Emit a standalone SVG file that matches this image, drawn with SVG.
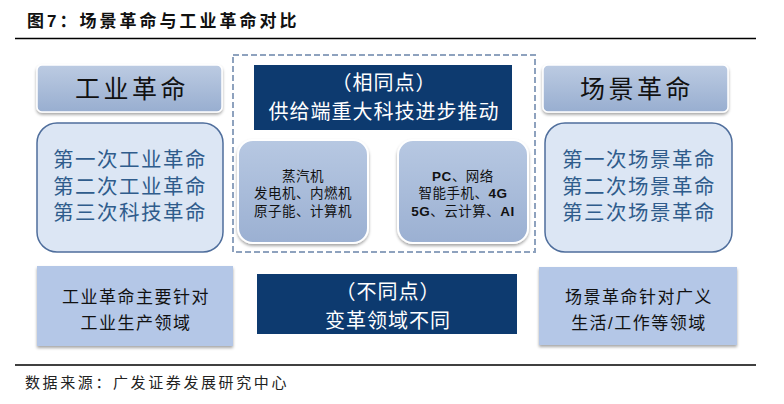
<svg xmlns="http://www.w3.org/2000/svg" width="784" height="404" viewBox="0 0 784 404">
<style>
text{font-family:"Liberation Sans","Noto Sans CJK SC",sans-serif;text-anchor:middle}
.title{font-size:17px;font-weight:bold;text-anchor:start;fill:#111;letter-spacing:3px}
.src{font-size:15px;text-anchor:start;fill:#222;letter-spacing:2.6px}
.hdr{font-size:25px;fill:#111;letter-spacing:3.5px}
.list{font-size:20.5px;fill:#2f5c8c;letter-spacing:1.5px}
.navy{fill:#0d3a6f}
.wt{fill:#fff;font-size:20px;letter-spacing:1px}
.inner{font-size:13.5px;fill:#111;letter-spacing:0.5px}
.bot{font-size:17px;fill:#111;letter-spacing:1.5px}
</style>
<defs>
<linearGradient id="hg" x1="0" y1="0" x2="0" y2="1">
<stop offset="0" stop-color="#bccbe2"/><stop offset="1" stop-color="#98aed0"/>
</linearGradient>
<linearGradient id="ig" x1="0" y1="0" x2="0" y2="1">
<stop offset="0" stop-color="#b7c8e2"/><stop offset="1" stop-color="#9bb0d2"/>
</linearGradient>
<filter id="sh" x="-10%" y="-10%" width="120%" height="130%">
<feDropShadow dx="0" dy="2" stdDeviation="1.5" flood-color="#000" flood-opacity="0.35"/>
</filter>
</defs>
<text class="title" x="27" y="27">图7：场景革命与工业革命对比</text>
<line x1="15" y1="38.5" x2="756" y2="38.5" stroke="#000" stroke-width="1.5"/>
<line x1="15" y1="365" x2="756" y2="365" stroke="#000" stroke-width="1.5"/>
<text class="src" x="25" y="388">数据来源：广发证券发展研究中心</text>

<g id="connectors"></g>

<g id="dashed-frame">
<rect x="233" y="55" width="302" height="197" fill="none" stroke="#8ea2be" stroke-width="2" stroke-dasharray="6,3"/>
</g>

<g id="hdr-left">
<rect x="37" y="65" width="185" height="47" rx="5" fill="url(#hg)" stroke="#fff" stroke-width="1.5" filter="url(#sh)"/>
<text class="hdr" x="132" y="98">工业革命</text>
</g>
<g id="list-left">
<rect x="37" y="123" width="186" height="129" rx="20" fill="#dce6f4" stroke="#4f6e9c" stroke-width="1.5"/>
<text class="list" x="130" y="167">第一次工业革命</text>
<text class="list" x="130" y="194">第二次工业革命</text>
<text class="list" x="130" y="220">第三次科技革命</text>
</g>

<g id="hdr-right">
<rect x="543" y="65" width="185" height="47" rx="5" fill="url(#hg)" stroke="#fff" stroke-width="1.5" filter="url(#sh)"/>
<text class="hdr" x="637" y="98">场景革命</text>
</g>
<g id="list-right">
<rect x="545" y="123" width="187" height="129" rx="20" fill="#dce6f4" stroke="#4f6e9c" stroke-width="1.5"/>
<text class="list" x="639" y="167">第一次场景革命</text>
<text class="list" x="639" y="194">第二次场景革命</text>
<text class="list" x="639" y="220">第三次场景革命</text>
</g>

<g id="same">
<rect class="navy" x="254" y="65" width="258" height="65"/>
<text class="wt" x="384" y="90">（相同点）</text>
<text class="wt" x="384" y="119" font-size="21">供给端重大科技进步推动</text>
</g>

<g id="inner-left">
<rect x="238" y="140" width="130" height="103" rx="15" fill="url(#ig)" stroke="#fff" stroke-width="2" filter="url(#sh)"/>
<text class="inner" x="303" y="181">蒸汽机</text>
<text class="inner" x="303" y="198">发电机、内燃机</text>
<text class="inner" x="303" y="216">原子能、计算机</text>
</g>
<g id="inner-right">
<rect x="398" y="140" width="130" height="103" rx="15" fill="url(#ig)" stroke="#fff" stroke-width="2" filter="url(#sh)"/>
<text class="inner" x="463" y="181"><tspan font-weight="bold">PC</tspan>、网络</text>
<text class="inner" x="463" y="198">智能手机、<tspan font-weight="bold">4G</tspan></text>
<text class="inner" x="463" y="216"><tspan font-weight="bold">5G</tspan>、云计算、<tspan font-weight="bold">AI</tspan></text>
</g>

<g id="bot-left">
<rect x="37" y="266" width="196" height="80" fill="#b4c7e7" filter="url(#sh)"/>
<text class="bot" x="136" y="303">工业革命主要针对</text>
<text class="bot" x="136" y="329">工业生产领域</text>
</g>
<g id="diff">
<rect class="navy" x="257" y="274" width="260" height="60"/>
<text class="wt" x="388" y="299">（不同点）</text>
<text class="wt" x="388" y="328">变革领域不同</text>
</g>
<g id="bot-right">
<rect x="539" y="267" width="198" height="78" fill="#b4c7e7" filter="url(#sh)"/>
<text class="bot" x="639" y="303">场景革命针对广义</text>
<text class="bot" x="639" y="329">生活/工作等领域</text>
</g>
</svg>
